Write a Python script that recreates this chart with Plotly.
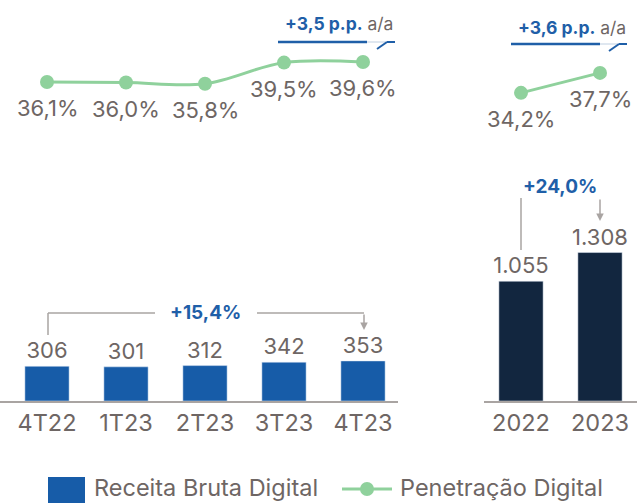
import plotly.graph_objects as go

# ---- data ----
quarters = ["4T22", "1T23", "2T23", "3T23", "4T23"]
quarter_revenue = [306, 301, 312, 342, 353]
quarter_penetration = [36.1, 36.0, 35.8, 39.5, 39.6]

years = ["2022", "2023"]
year_revenue = [1055, 1308]
year_penetration = [34.2, 37.7]

quarter_growth = "+15,4%"
year_growth = "+24,0%"
quarter_pp = "+3,5 p.p."
year_pp = "+3,6 p.p."

# ---- style ----
W, H = 637, 503
BLUE = "#175ca8"
NAVY = "#12263f"
GREEN = "#8fd19c"
GRAY = "#6e6664"
LINEGRAY = "#a9a4a2"
TXTBLUE = "#1f5fa8"
FONT = "Inter"
NUM_SIZE = 22


def fmt_int(v):
    return f"{v:,}".replace(",", ".")


def fmt_pct(v):
    return f"{v:.1f}".replace(".", ",") + "%"


def px(x):
    return x / W


def py(y):
    return 1 - y / H


fig = go.Figure()

fig.add_trace(go.Bar(
    x=quarters, y=quarter_revenue, xaxis="x", yaxis="y",
    marker_color=BLUE, width=0.56, name="Receita Bruta Digital",
    text=[fmt_int(v) for v in quarter_revenue], textposition="outside",
    constraintext="none",
    textfont=dict(size=NUM_SIZE, color=GRAY, family=FONT), cliponaxis=False,
))
fig.add_trace(go.Bar(
    x=years, y=year_revenue, xaxis="x2", yaxis="y",
    marker_color=NAVY, width=0.56, showlegend=False,
    text=[fmt_int(v) for v in year_revenue], textposition="outside",
    constraintext="none",
    textfont=dict(size=NUM_SIZE, color=GRAY, family=FONT), cliponaxis=False,
))
fig.add_trace(go.Scatter(
    x=quarters, y=quarter_penetration, xaxis="x", yaxis="y2",
    mode="lines+markers", line=dict(color=GREEN, width=3, shape="spline"),
    marker=dict(size=14, color=GREEN), name="Penetração Digital", cliponaxis=False,
))
fig.add_trace(go.Scatter(
    x=years, y=year_penetration, xaxis="x2", yaxis="y2",
    mode="lines+markers", line=dict(color=GREEN, width=3),
    marker=dict(size=14, color=GREEN), showlegend=False, cliponaxis=False,
))

base_y = 401
px_per_unit = 0.1135
pp_y, pp_ref, px_per_pp = 82, 36.1, 5.7

axis_common = dict(
    type="category", showgrid=False, zeroline=False, showline=True,
    linecolor=LINEGRAY, linewidth=1.5, ticks="",
    tickfont=dict(size=23.5, color=GRAY, family=FONT), fixedrange=True,
)
fig.update_layout(
    width=W, height=H, margin=dict(l=0, r=0, t=0, b=0),
    paper_bgcolor="white", plot_bgcolor="white", showlegend=False,
    font=dict(family=FONT, color=GRAY),
    xaxis=dict(domain=[0, px(398)], range=[-47 / 79, (398 - 47) / 79],
               anchor="y", **axis_common),
    xaxis2=dict(domain=[px(484), 1], range=[(484 - 521) / 79, (637 - 521) / 79],
                anchor="y", **axis_common),
    yaxis=dict(domain=[py(base_y), 1], range=[0, base_y / px_per_unit],
               visible=False, fixedrange=True),
    yaxis2=dict(overlaying="y", visible=False, fixedrange=True,
                range=[pp_ref - (base_y - pp_y) / px_per_pp, pp_ref + pp_y / px_per_pp]),
)

shapes = []
annotations = []

# percentage labels under the line points (x given as category index)
for xa, vals in (("x", quarter_penetration), ("x2", year_penetration)):
    for i, v in enumerate(vals):
        annotations.append(dict(xref=xa, yref="y2", x=i, y=v, text=fmt_pct(v),
                                showarrow=False, xanchor="center", yanchor="middle",
                                yshift=-26, font=dict(size=NUM_SIZE, color=GRAY, family=FONT)))


def seg(x0, y0, x1, y1, color=LINEGRAY, width=1.5):
    shapes.append(dict(type="line", xref="paper", yref="paper",
                       x0=px(x0), y0=py(y0), x1=px(x1), y1=py(y1),
                       line=dict(color=color, width=width)))


def arrow(x, y_from, y_to):
    annotations.append(dict(xref="paper", yref="paper", x=px(x), y=py(y_to),
                            axref="pixel", ayref="pixel", ax=0, ay=-(y_to - y_from),
                            text="", showarrow=True, arrowhead=2, arrowsize=1,
                            arrowwidth=1.5, arrowcolor=LINEGRAY, standoff=0))


def label(x, y, text, size, color=GRAY, xanchor="center"):
    annotations.append(dict(xref="paper", yref="paper", x=px(x), y=py(y), text=text,
                            showarrow=False, xanchor=xanchor, yanchor="middle",
                            font=dict(size=size, color=color, family=FONT)))


# quarterly growth bracket
seg(48, 335, 48, 313)
seg(48, 313, 155, 313)
seg(257, 313, 364, 313)
arrow(364, 313, 330)
label(205, 312, f"<b>{quarter_growth}</b>", 19, TXTBLUE)

# yearly growth bracket
seg(521, 198, 521, 250)
arrow(600, 198, 221)
label(560, 186, f"<b>{year_growth}</b>", 19, TXTBLUE)


# p.p. callouts
def callout(xc, yc, text, lx0, lx1, lend, ly):
    label(xc, yc, f"<b>{text}</b> <span style='color:{GRAY}'>a/a</span>", 17.5, TXTBLUE)
    seg(lx0, ly, lx1, ly, color=TXTBLUE, width=2.5)
    seg(lx1, ly, lend, ly, color="#c9d7e6", width=1.2)
    seg(lend - 18, ly + 7, lend - 8, ly, color=TXTBLUE, width=2)
    seg(lend - 8, ly, lend, ly, color=TXTBLUE, width=2)


callout(339, 24, quarter_pp, 278, 367, 395, 42)
callout(572, 27, year_pp, 511, 600, 627, 44)

# manual legend
shapes.append(dict(type="rect", xref="paper", yref="paper", x0=px(48), x1=px(85),
                   y0=py(503), y1=py(477), fillcolor=BLUE, line=dict(width=0)))
label(92, 487, "Receita Bruta Digital", 23.5, xanchor="left")
seg(342, 489, 392, 489, color=GREEN, width=3)
shapes.append(dict(type="circle", xref="paper", yref="paper", x0=px(360), x1=px(374),
                   y0=py(496), y1=py(482), fillcolor=GREEN, line=dict(width=0)))
label(398, 487, "Penetração Digital", 23.5, xanchor="left")

fig.update_layout(shapes=shapes, annotations=annotations)
fig.write_html("out.html", config={"displayModeBar": False},
               post_script="document.body.style.margin='0';document.body.style.padding='0';")
